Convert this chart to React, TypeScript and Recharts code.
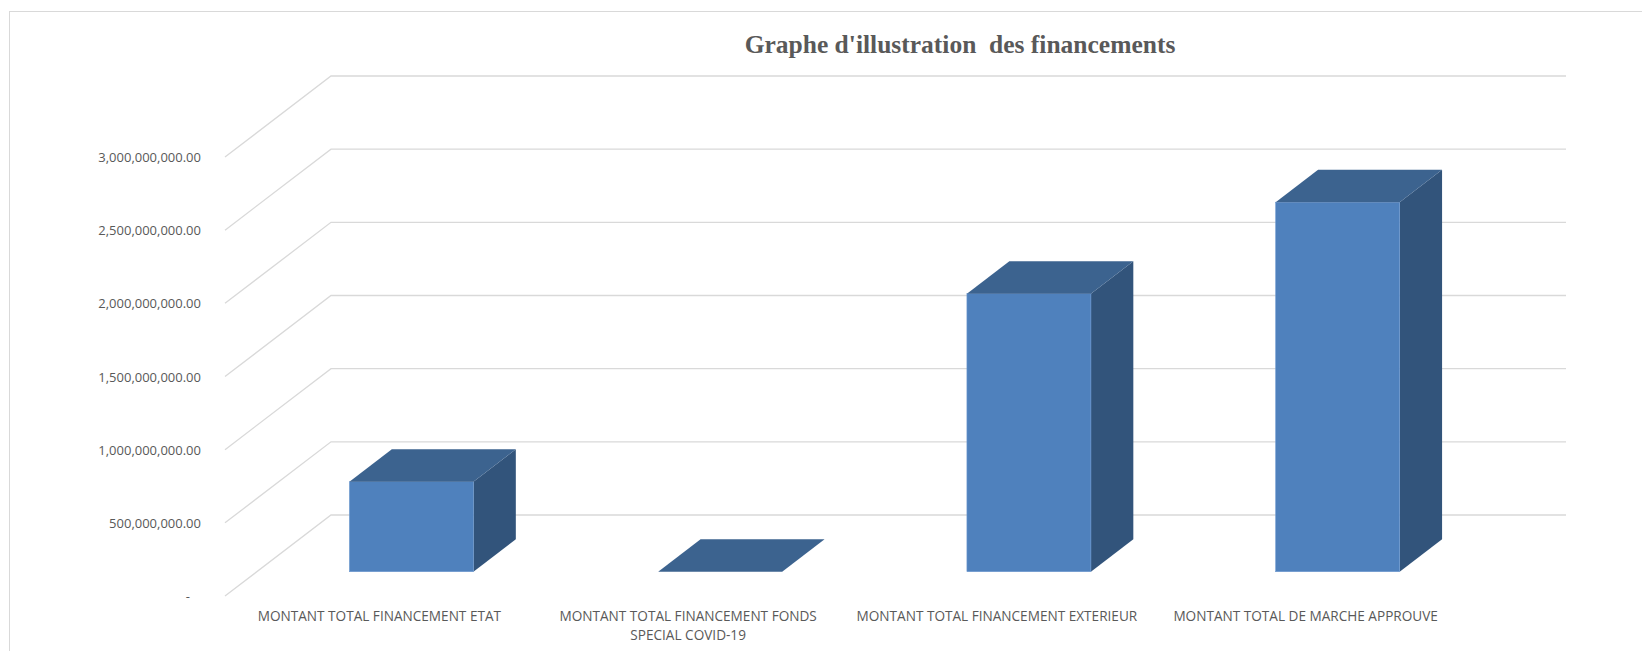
import { BarChart, Bar, XAxis, YAxis, CartesianGrid } from 'recharts';

const categories = [
  'MONTANT TOTAL FINANCEMENT ETAT',
  'MONTANT TOTAL FINANCEMENT FONDS SPECIAL COVID-19',
  'MONTANT TOTAL FINANCEMENT EXTERIEUR',
  'MONTANT TOTAL DE MARCHE APPROUVE',
];
const montants = [615000000, 0, 1900000000, 2525000000];
const yTicks = [0, 500000000, 1000000000, 1500000000, 2000000000, 2500000000, 3000000000];

const data = categories.map((name, i) => ({ name, value: montants[i] }));

// depth of the 3d floor, and where the bars sit in it
const DX = 106;
const DY = -81;
const FRONT = 0.3;
const DEPTH = 0.4;

const FRONT_COLOR = '#4F81BD';
const TOP_COLOR = '#3C638F';
const SIDE_COLOR = '#32547B';

function fmt(v: number) {
  if (v === 0) return '-';
  return v.toLocaleString('en-US', { minimumFractionDigits: 2, maximumFractionDigits: 2 });
}

function GridLine(props: any) {
  const { x1, x2, y1 } = props;
  return (
    <path
      key={`g-${y1}`}
      d={`M${x1},${y1} L${x1 + DX},${y1 + DY} L${x2 + DX},${y1 + DY}`}
      fill="none"
      stroke="#D9D9D9"
      strokeWidth={1.3}
    />
  );
}

function Bar3D(props: any) {
  const { x, y, width, height } = props;
  const ox = x + DX * FRONT;
  const oy = y + DY * FRONT;
  const h = Math.max(height, 0);
  const dx = DX * DEPTH;
  const dy = DY * DEPTH;
  const top = `M${ox},${oy} L${ox + dx},${oy + dy} L${ox + width + dx},${oy + dy} L${ox + width},${oy} Z`;
  const side = `M${ox + width},${oy} L${ox + width + dx},${oy + dy} L${ox + width + dx},${oy + dy + h} L${ox + width},${oy + h} Z`;
  return (
    <g>
      {h > 0 && <path d={side} fill={SIDE_COLOR} />}
      {h > 0 && <rect x={ox} y={oy} width={width} height={h} fill={FRONT_COLOR} stroke="#6E9AD0" strokeWidth={0.6} />}
      <path d={top} fill={TOP_COLOR} />
    </g>
  );
}

function YTick(props: any) {
  const { y, payload } = props;
  const v = payload.value;
  return (
    <text
      x={v === 0 ? 190 : 201}
      y={y}
      dy={5}
      textAnchor="end"
      fill="#595959"
      fontSize={13}
      fontFamily="'Open Sans', sans-serif"
    >
      {fmt(v)}
    </text>
  );
}

function XTick(props: any) {
  const { x, y, payload } = props;
  const words = String(payload.value).split(' ');
  const lines: string[] = [];
  let cur = '';
  words.forEach((w) => {
    const next = cur ? cur + ' ' + w : w;
    if (next.length > 36 && cur) {
      lines.push(cur);
      cur = w;
    } else {
      cur = next;
    }
  });
  if (cur) lines.push(cur);
  return (
    <text
      x={x}
      y={y}
      textAnchor="middle"
      fill="#595959"
      fontSize={13.6}
      fontFamily="'Open Sans', sans-serif"
    >
      {lines.map((l, i) => (
        <tspan key={i} x={x} dy={i === 0 ? 17 : 19}>
          {l}
        </tspan>
      ))}
    </text>
  );
}

export default function App() {
  return (
    <div style={{ position: 'absolute', left: 0, top: 0, width: 1642, height: 651, background: '#fff' }}>
      <div
        style={{
          position: 'absolute',
          left: 9,
          top: 11,
          right: 0,
          bottom: 0,
          borderTop: '1.5px solid #D9D9D9',
          borderLeft: '1.5px solid #D9D9D9',
        }}
      />
      <div
        style={{
          position: 'absolute',
          left: 0,
          top: 30,
          width: 1920,
          textAlign: 'center',
          fontFamily: "'Liberation Serif', serif",
          fontWeight: 'bold',
          fontSize: 25.5,
          lineHeight: '30px',
          color: '#595959',
          whiteSpace: 'pre',
        }}
      >
        {"Graphe d'illustration  des financements"}
      </div>
      <div style={{ position: 'absolute', left: 0, top: 0 }}>
        <BarChart
          width={1642}
          height={651}
          data={data}
          margin={{ top: 157, right: 182, bottom: 0, left: 0 }}
          barCategoryGap="30%"
        >
          <CartesianGrid vertical={false} horizontal={GridLine} />
          <XAxis dataKey="name" axisLine={false} tickLine={false} interval={0} height={55} tick={XTick} />
          <YAxis
            width={225}
            domain={[0, 3000000000]}
            ticks={yTicks}
            axisLine={false}
            tickLine={false}
            tick={YTick}
          />
          <Bar dataKey="value" shape={Bar3D} isAnimationActive={false} />
        </BarChart>
      </div>
    </div>
  );
}
